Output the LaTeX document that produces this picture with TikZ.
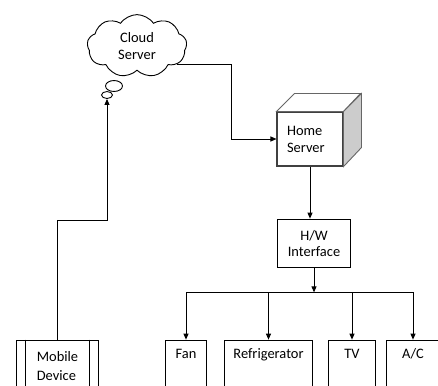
\documentclass[tikz,border=0pt]{standalone}
\usepackage{fontspec}
\setmainfont{Carlito}
\usetikzlibrary{shapes, shapes.symbols, shapes.geometric, arrows.meta, calc, positioning}

\begin{document}
\begin{tikzpicture}[
    x=1bp, y=-1bp,
    font=\fontsize{14.5}{17}\selectfont,
    line width=0.9bp,
    >={Triangle[length=6bp,width=5bp]}
]
    \useasboundingbox (0,0) rectangle (438,385);
    \clip (0,0) rectangle (438,385);

    % Styles for blocks
    \tikzstyle{block} = [draw, rectangle, align=center, fill=white]
    \tikzstyle{device} = [draw, rectangle, minimum height=54, inner ysep=0pt, text height=18, text depth=36]
    \tikzstyle{bubble} = [draw, ellipse, inner sep=0pt, fill=white]

    % Components

    % Cloud server with its thought bubbles (Top Left)
    \node [cloud, draw, cloud puffs=9, cloud puff arc=110, aspect=1.6, minimum width=100, minimum height=63, inner sep=0pt, align=center] (cloud) at (137,46) {Cloud\\Server};
    \node [bubble, minimum width=17, minimum height=11] (bub1) at (114,86) {};
    \node [bubble, minimum width=11, minimum height=7] (bub2) at (107,95) {};

    % Home server (cube)
    \node [block, minimum width=66, minimum height=54, text width=46, align=left, draw=black!75, line width=1.3bp] (hs) at (310,139) {Home\\Server};
    \draw [draw=black!60, fill=white] (hs.north west) -- ++(18,-18) -- ++(66,0) -- (hs.north east) -- cycle;
    \draw [draw=black!60, fill=gray!40] (hs.north east) -- ++(18,-18) -- ++(0,54) -- (hs.south east) -- cycle;

    % Hardware interface
    \node [block, minimum width=74, minimum height=49] (hwi) at (314,243.5) {H/W\\Interface};

    % Mobile device (Bottom Left)
    \node [draw, rectangle, minimum width=83, minimum height=52, align=left, font=\fontsize{14.5}{20}\selectfont] (mob) at (57.5,366) {Mobile\\Device};
    \draw ($(mob.north west)+(10,0)$) -- ($(mob.south west)+(10,0)$);
    \draw ($(mob.north east)+(-10,0)$) -- ($(mob.south east)+(-10,0)$);

    % Appliances (Bottom Right)
    \node [device, minimum width=42] (fan) at (186,367) {Fan};
    \node [device, minimum width=89] (fridge) at (268.5,367) {Refrigerator};
    \node [device, minimum width=48] (tv) at (352,367) {TV};
    \node [device, minimum width=54] (ac) at (413,367) {A/C};

    % Connections

    % 1. Cloud -> Home server
    \coordinate (bend) at ($(hs.west)+(-45,0)$);
    \draw [->] (cloud.-24) -| (bend) -- (hs.west);

    % 2. Home server -> H/W interface
    \draw [->] (hs.south) -- (hs.south |- hwi.north);

    % 3. H/W interface -> appliance bus
    \coordinate (bus) at ($(hwi.south)+(0,24)$);
    \draw [->] (hwi.south) -- (bus);
    \draw (bus -| fan.north) -- (bus -| ac.north);
    \foreach \dev in {fan, fridge, tv, ac}
        \draw [->] (bus -| \dev.north) -- (\dev.north);

    % 4. Mobile device -> cloud
    \coordinate (turn) at (bub2.south |- 0,220);
    \draw [->] (mob.north) |- (turn) -- (bub2.south);

\end{tikzpicture}
\end{document}
